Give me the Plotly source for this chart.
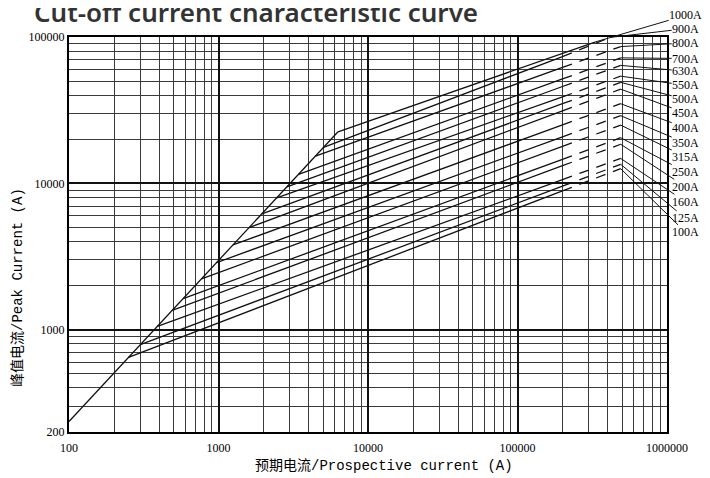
import math
import plotly.graph_objects as go

# ---------------- data ----------------
RATINGS = ["100A", "125A", "160A", "200A", "250A", "315A", "350A", "400A",
           "450A", "500A", "550A", "630A", "700A", "800A", "900A", "1000A"]

# common rising envelope (prospective current A -> peak current A)
ENV_I = [100, 200, 300, 500, 1000, 2000, 3000, 4500, 6300]
ENV_IP = [236, 506, 790, 1385, 2970, 6370, 9960, 15500, 22500]

# point where each rating leaves the envelope
BRANCH_I = [250, 300, 390, 490, 580, 770, 970, 1250,
            1600, 1950, 2450, 2870, 3430, 4450, 5040, 6300]
BRANCH_IP = [647, 790, 1054, 1355, 1631, 2225, 2872, 3800,
             4982, 6195, 7960, 9473, 11530, 15350, 17600, 22500]

# end of the solid part (~200 kA)
SOLID_I = [200000] * 15 + [330000]
SOLID_IP = [8890, 9560, 10600, 13200, 14600, 17900, 20800, 25100,
            31300, 35000, 39000, 45900, 51700, 62000, 73500, 92400]

# end of the dashed part (vertex where the label leader starts)
END_I = [490000] * 14 + [420000, 330000]
END_IP = [12600, 13500, 14800, 18500, 20500, 25000, 29000, 35000,
          44000, 49000, 54000, 64000, 72000, 86000, 99500, 92400]

X_TICKS = [100, 1000, 10000, 100000, 1000000]
X_TICKTEXT = ["100", "1000", "10000", "100000", "1000000"]
Y_TICKS = [200, 1000, 10000, 100000]
Y_TICKTEXT = ["200", "1000", "10000", "100000"]

# ---------------- label placement (axis log units) ----------------
LABEL_LOGX = 6.125
LABEL_LOGY = [3.665, 3.760, 3.874, 3.976, 4.078, 4.181, 4.276, 4.379,
              4.481, 4.573, 4.670, 4.766, 4.853, 4.959, 5.057, 5.148]

LINE = "#111111"
MONO = "Liberation Mono, Noto Sans CJK SC"

fig = go.Figure()

fig.add_trace(go.Scatter(x=ENV_I, y=ENV_IP, mode="lines",
                         line=dict(color=LINE, width=1.3),
                         showlegend=False, hoverinfo="skip"))

for i, name in enumerate(RATINGS):
    fig.add_trace(go.Scatter(x=[BRANCH_I[i], SOLID_I[i]],
                             y=[BRANCH_IP[i], SOLID_IP[i]],
                             mode="lines", line=dict(color=LINE, width=1.3),
                             name=name, showlegend=False, hoverinfo="skip"))
    if END_I[i] != SOLID_I[i]:
        fig.add_trace(go.Scatter(x=[SOLID_I[i], END_I[i]],
                                 y=[SOLID_IP[i], END_IP[i]],
                                 mode="lines",
                                 line=dict(color=LINE, width=1.3, dash="10px,8px"),
                                 showlegend=False, hoverinfo="skip"))
    fig.add_annotation(x=math.log10(END_I[i]), y=math.log10(END_IP[i]),
                       xref="x", yref="y",
                       ax=LABEL_LOGX, ay=LABEL_LOGY[i], axref="x", ayref="y",
                       text=name, showarrow=True, arrowhead=0, borderpad=0,
                       arrowwidth=1, arrowcolor=LINE, standoff=0,
                       font=dict(family="Liberation Serif", size=12, color="black"))

x_minor = [m * 10 ** e for e in range(2, 6) for m in range(2, 10)]
y_minor = [m * 10 ** e for e in range(2, 5) for m in range(2, 10) if m * 10 ** e > 200]

axis_common = dict(type="log", showgrid=True, gridcolor="#111111", gridwidth=1.8,
                   showline=True, linecolor="black", linewidth=2, mirror=True,
                   ticks="", zeroline=False, automargin=False,
                   tickfont=dict(family="Liberation Serif", size=12, color="black"))

fig.update_xaxes(range=[2, 6], tickvals=X_TICKS, ticktext=X_TICKTEXT, ticklabelstandoff=4,
                 minor=dict(tickvals=x_minor, showgrid=True, gridcolor="#3a3a3a", gridwidth=1),
                 **axis_common)
fig.update_yaxes(range=[math.log10(200), 5], tickvals=Y_TICKS, ticktext=Y_TICKTEXT,
                 minor=dict(tickvals=y_minor, showgrid=True, gridcolor="#3a3a3a", gridwidth=1),
                 **axis_common)

# axis titles (placed like the reference, slightly off-centre)
fig.add_annotation(text="预期电流/Prospective current (A)", xref="paper", yref="paper",
                   x=0.526, y=-0.086, xanchor="center", yanchor="middle", showarrow=False,
                   font=dict(family=MONO, size=14, color="black"))
fig.add_annotation(text="峰值电流/Peak Current (A)", xref="paper", yref="paper",
                   x=-0.0853, y=0.367, xanchor="center", yanchor="middle", showarrow=False,
                   textangle=-90, font=dict(family=MONO, size=14, color="black"))

# chart title (partly cut by the top edge, as in the reference)
fig.add_annotation(text="Cut-off current characteristic curve", xref="paper", yref="paper",
                   x=-0.062, y=1.063, xanchor="left", yanchor="middle", showarrow=False,
                   font=dict(family="Noto Sans", size=26, color="#333333", weight=600))

fig.update_layout(width=702, height=470, margin=dict(l=61, r=43, t=29, b=46),
                  plot_bgcolor="white", paper_bgcolor="white", showlegend=False)

fig.write_html("out.html")
